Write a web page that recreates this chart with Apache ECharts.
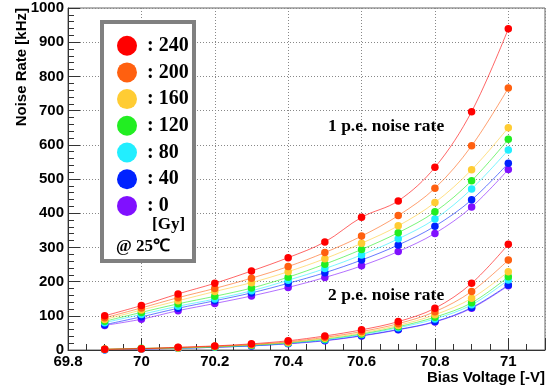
<!DOCTYPE html>
<html>
<head>
<meta charset="utf-8">
<script src="https://cdn.jsdelivr.net/npm/echarts@6/dist/echarts.min.js"></script>
<style>html,body{margin:0;padding:0;background:#fff}#c{width:553px;height:390px}</style>
</head>
<body>
<div id="c"></div>
<script>
// Bias voltage points [-V]
const volts = [69.9, 70.0, 70.1, 70.2, 70.3, 70.4, 70.5, 70.6, 70.7, 70.8, 70.9, 71.0];
// Doses [Gy], legend order
const doses = ['240', '200', '160', '120', '80', '40', '0'];
const colors = ['#ff0000', '#ff6010', '#ffcc33', '#22ee22', '#22eeff', '#0022ff', '#8010ff'];

// 1 p.e. noise rate [kHz]
const pe1_240 = [100, 130, 164, 195, 231, 270, 316, 388, 436, 534, 697, 939];
const pe1_200 = [94, 123, 153, 180, 210, 244, 285, 333, 393, 473, 597, 766];
const pe1_160 = [89, 117, 144, 171, 197, 229, 267, 312, 363, 431, 527, 650];
const pe1_120 = [84, 110, 135, 157, 181, 213, 251, 294, 343, 404, 495, 616];
const pe1_80  = [80, 104, 128, 149, 173, 204, 238, 278, 325, 383, 471, 585];
const pe1_40  = [74, 97, 122, 144, 167, 195, 226, 263, 307, 362, 439, 546];
const pe1_0   = [72, 90, 115, 136, 158, 183, 212, 246, 288, 341, 418, 528];

// 2 p.e. noise rate [kHz]
const pe2_240 = [2, 4, 8, 12, 18, 27, 41, 59, 83, 122, 195, 309];
const pe2_200 = [2, 4, 7, 11, 16, 24, 37, 54, 77, 112, 171, 263];
const pe2_160 = [2, 4, 6, 10, 15, 22, 34, 50, 72, 103, 151, 229];
const pe2_120 = [2, 5, 6, 9, 14, 21, 32, 47, 68, 96, 138, 214];
const pe2_80  = [1, 4, 5, 9, 13, 20, 30, 45, 65, 91, 132, 205];
const pe2_40  = [1, 3, 5, 8, 12, 19, 28, 42, 60, 83, 124, 190];
const pe2_0   = [1, 3, 5, 8, 12, 18, 27, 41, 59, 82, 122, 188];

const pe1 = [pe1_240, pe1_200, pe1_160, pe1_120, pe1_80, pe1_40, pe1_0];
const pe2 = [pe2_240, pe2_200, pe2_160, pe2_120, pe2_80, pe2_40, pe2_0];

// Axis ranges / tick spacing
const xMin = 69.8, xMax = 71.1, xStep = 0.2;
const yMin = 0, yMax = 1000, yStep = 100;

const series = [];
for (let i = doses.length - 1; i >= 0; i--) {
  [pe1[i], pe2[i]].forEach(vals => {
    series.push({
      name: doses[i],
      type: 'line',
      smooth: 0.35,
      symbol: 'circle',
      symbolSize: 7.5,
      color: colors[i],
      itemStyle: { color: colors[i] },
      lineStyle: { color: colors[i], width: 1, opacity: 0.6 },
      emphasis: { disabled: true },
      data: volts.map((v, k) => [v, vals[k]])
    });
  });
}

const sans = '"Liberation Sans", Arial, sans-serif';
const serif = '"Liberation Serif", "Times New Roman", serif';

const chart = echarts.init(document.getElementById('c'), null, { renderer: 'canvas' });
chart.setOption({
  animation: false,
  backgroundColor: '#fff',
  grid: { left: 68, right: 8, top: 8, bottom: 40, show: true, borderColor: '#666', borderWidth: 1 },
  xAxis: {
    type: 'value', min: xMin, max: xMax, interval: xStep,
    axisLine: { show: true, lineStyle: { color: '#333', width: 1 } },
    axisTick: { show: true, inside: true, length: 12, lineStyle: { color: '#333' } },
    minorTick: { show: true, splitNumber: 4, length: 6, lineStyle: { color: '#333' } },
    splitLine: { show: true, lineStyle: { color: '#888', type: [1, 2], width: 1 } },
    axisLabel: { showMaxLabel: false, margin: 4, fontFamily: sans, fontWeight: 'bold', fontSize: 15, color: '#000',
      formatter: v => String(Math.round(v * 10) / 10) }
  },
  yAxis: {
    type: 'value', min: yMin, max: yMax, interval: yStep,
    axisLine: { show: true, lineStyle: { color: '#333', width: 1 } },
    axisTick: { show: true, inside: true, length: 12, lineStyle: { color: '#333' } },
    minorTick: { show: true, splitNumber: 5, length: 6, lineStyle: { color: '#333' } },
    splitLine: { show: true, lineStyle: { color: '#888', type: [1, 2], width: 1 } },
    axisLabel: { margin: 4, fontFamily: sans, fontWeight: 'bold', fontSize: 15, color: '#000',
      formatter: v => String(Math.round(v)) }
  },
  legend: {
    orient: 'vertical', left: 112, top: 30.7,
    data: doses,
    icon: 'circle', itemWidth: 20, itemHeight: 20, itemGap: 6.7,
    selectedMode: false,
    formatter: n => ': ' + n,
    textStyle: { fontFamily: serif, fontWeight: 'bold', fontSize: 20, lineHeight: 20, color: '#000', padding: [0, 0, 0, 5] },
    z: 10
  },
  graphic: [
    { type: 'rect', z: 5, shape: { x: 102, y: 22, width: 92, height: 239 },
      style: { fill: '#fff', stroke: '#808080', lineWidth: 4 } },
    { type: 'text', z: 6, x: 152, y: 225,
      style: { text: '[Gy]', font: 'bold 17px ' + serif, fill: '#000', textAlign: 'left', textVerticalAlign: 'middle' } },
    { type: 'text', z: 6, x: 116, y: 247,
      style: { text: '@ 25\u2103', font: 'bold 17px ' + serif, fill: '#000', textAlign: 'left', textVerticalAlign: 'middle' } },
    { type: 'text', z: 6, x: 328, y: 126,
      style: { text: '1 p.e. noise rate', font: 'bold 17.5px ' + serif, fill: '#000', textAlign: 'left', textVerticalAlign: 'middle' } },
    { type: 'text', z: 6, x: 328, y: 295,
      style: { text: '2 p.e. noise rate', font: 'bold 17.5px ' + serif, fill: '#000', textAlign: 'left', textVerticalAlign: 'middle' } },
    { type: 'text', z: 6, x: 545, y: 378,
      style: { text: 'Bias Voltage [-V]', font: 'bold 15px ' + sans, fill: '#000', textAlign: 'right', textVerticalAlign: 'middle' } },
    { type: 'text', z: 6, x: 22, y: 8, rotation: Math.PI / 2,
      style: { text: 'Noise Rate [kHz]', font: 'bold 15px ' + sans, fill: '#000', textAlign: 'right', textVerticalAlign: 'middle' } }
  ],
  series: series
});
</script>
</body>
</html>
